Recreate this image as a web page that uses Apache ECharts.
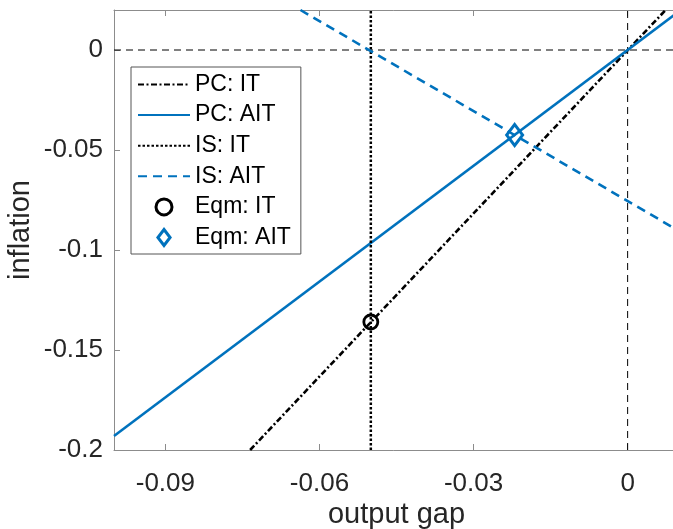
<!DOCTYPE html>
<html>
<head>
<meta charset="utf-8">
<script src="https://cdn.jsdelivr.net/npm/echarts@6/dist/echarts.min.js"></script>
<style>
html,body{margin:0;padding:0;background:#fff;}
#c{width:673px;height:529px;}
</style>
</head>
<body>
<div id="c"></div>
<script>
// ---- data ----
var xTicks = [-0.09, -0.06, -0.03, 0];
var yTicks = [-0.2, -0.15, -0.1, -0.05, 0];
var pcIT  = [[-0.0735, -0.2], [0.0074, 0.02]];
var pcAIT = [[-0.1, -0.193], [0.01, 0.0193]];
var isIT  = [[-0.05, -0.2], [-0.05, 0.02]];
var isAIT = [[-0.0637, 0.02], [0.01, -0.0905]];
var eqmIT  = [[-0.05, -0.136]];
var eqmAIT = [[-0.022, -0.0425]];
var zeroH = [[-0.1, 0], [0.01, 0]];
var zeroV = [[0, -0.2], [0, 0.02]];
var legendNames = ['PC: IT', 'PC: AIT', 'IS: IT', 'IS: AIT', 'Eqm: IT', 'Eqm: AIT'];

var BLUE = '#0072BD';
var TXT = '#262626';
var FONT = 'Liberation Sans, Arial, sans-serif';
var AXC = '#8c8c8c';
var DIAMOND = 'path://M8,0 L16,10.5 L8,21 L0,10.5 Z';

function fmt(v){ return String(Math.round(v*1000)/1000); }

var hideSym = {opacity: 0};
var legendData = [
  {name: legendNames[0], itemStyle: hideSym},
  {name: legendNames[1], itemStyle: hideSym},
  {name: legendNames[2], itemStyle: hideSym},
  {name: legendNames[3], itemStyle: hideSym},
  {name: legendNames[4], icon: 'circle', itemStyle: {borderWidth: 3, borderColor: '#000', color: 'rgba(0,0,0,0)'}},
  {name: legendNames[5], icon: DIAMOND, itemStyle: {borderWidth: 3, borderColor: BLUE, color: 'rgba(0,0,0,0)'}}
];

var chart = echarts.init(document.getElementById('c'), null, {renderer:'canvas'});
chart.setOption({
  animation: false,
  backgroundColor: '#fff',
  grid: {left: 114, top: 10, width: 565, height: 440, containLabel: false, outerBoundsMode: 'none'},
  legend: {
    data: legendData,
    orient: 'vertical',
    left: 131, top: 67,
    padding: [6, 10, 5, 6],
    itemWidth: 52, itemHeight: 16, itemGap: 7.6,
    backgroundColor: '#fff',
    borderColor: '#555', borderWidth: 1, borderRadius: 0,
    textStyle: {fontFamily: FONT, fontSize: 23, color: '#000', lineHeight: 23},
    selectedMode: false
  },
  xAxis: [{
    type: 'value', min: -0.1, max: 0.01, position: 'bottom',
    name: 'output gap', nameLocation: 'middle', nameGap: 50, nameMoveOverlap: false,
    nameTextStyle: {fontFamily: FONT, fontSize: 29, color: TXT},
    axisLine: {show: true, onZero: false, lineStyle: {color: AXC, width: 1}},
    axisTick: {show: true, inside: true, length: 6, customValues: xTicks, lineStyle: {color: AXC}},
    axisLabel: {show: true, customValues: xTicks, formatter: fmt, margin: 21,
      fontFamily: FONT, fontSize: 26, color: TXT},
    splitLine: {show: false}
  }, {
    type: 'value', min: -0.1, max: 0.01, position: 'top',
    axisLine: {show: true, onZero: false, lineStyle: {color: AXC, width: 1}},
    axisTick: {show: true, inside: true, length: 6, customValues: xTicks, lineStyle: {color: AXC}},
    axisLabel: {show: false},
    splitLine: {show: false}
  }],
  yAxis: [{
    type: 'value', min: -0.2, max: 0.02,
    name: 'inflation', nameLocation: 'middle', nameGap: 79, nameMoveOverlap: false,
    nameTextStyle: {fontFamily: FONT, fontSize: 29, color: TXT},
    axisLine: {show: true, onZero: false, lineStyle: {color: AXC, width: 1}},
    axisTick: {show: true, inside: true, length: 6, customValues: yTicks, lineStyle: {color: AXC}},
    axisLabel: {show: true, customValues: yTicks, formatter: fmt, margin: 11,
      fontFamily: FONT, fontSize: 26, color: TXT},
    splitLine: {show: false}
  }],
  series: [
    {name: '_zeroH', type: 'line', data: zeroH, symbol: 'none', silent: true,
     lineStyle: {color: '#000', width: 1, type: [7, 5]}, z: 1},
    {name: '_zeroV', type: 'line', data: zeroV, symbol: 'none', silent: true,
     lineStyle: {color: '#000', width: 1, type: [7, 5]}, z: 1},
    {name: 'PC: IT', type: 'line', data: pcIT, symbol: 'none',
     itemStyle: {color: '#000'},
     lineStyle: {color: '#000', width: 2.6, type: [6, 2.5, 2, 2.5]}, z: 2},
    {name: 'PC: AIT', type: 'line', data: pcAIT, symbol: 'none',
     itemStyle: {color: BLUE},
     lineStyle: {color: BLUE, width: 2.6, type: 'solid'}, z: 2},
    {name: 'IS: IT', type: 'line', data: isIT, symbol: 'none',
     itemStyle: {color: '#000'},
     lineStyle: {color: '#000', width: 2.5, type: [2.5, 2]}, z: 2},
    {name: 'IS: AIT', type: 'line', data: isAIT, symbol: 'none',
     itemStyle: {color: BLUE},
     lineStyle: {color: BLUE, width: 2.6, type: [9, 6]}, z: 2},
    {name: 'Eqm: IT', type: 'scatter', data: eqmIT, symbol: 'circle', symbolSize: 14,
     itemStyle: {color: 'rgba(0,0,0,0)', borderColor: '#000', borderWidth: 2.8, opacity: 1}, z: 3},
    {name: 'Eqm: AIT', type: 'scatter', data: eqmAIT, symbol: 'diamond', symbolSize: [16, 21],
     itemStyle: {color: 'rgba(0,0,0,0)', borderColor: BLUE, borderWidth: 3, opacity: 1}, z: 3}
  ]
});
</script>
</body>
</html>
